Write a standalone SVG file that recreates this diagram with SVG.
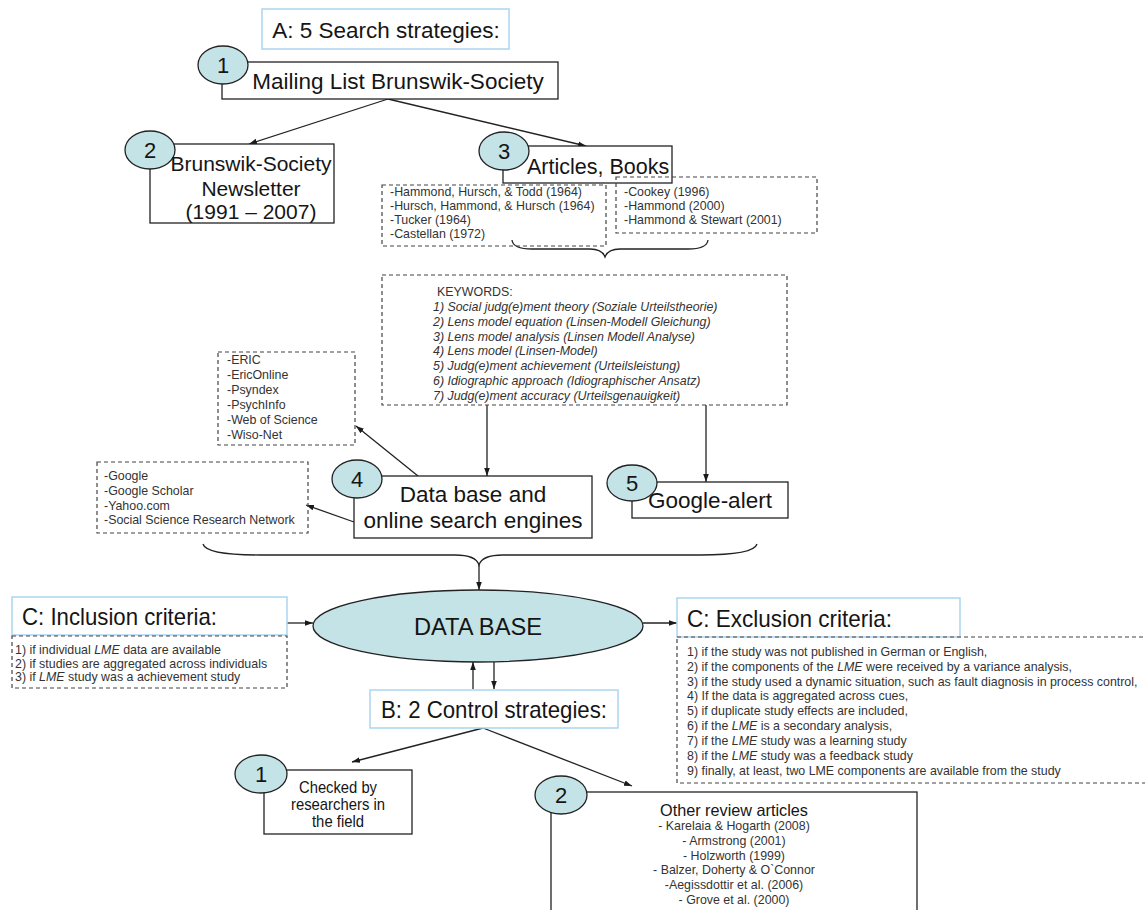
<svg xmlns="http://www.w3.org/2000/svg" width="1145" height="910" viewBox="0 0 1145 910">
<defs>
<marker id="ah" viewBox="0 0 10 10" refX="10" refY="5" markerWidth="8" markerHeight="8" markerUnits="userSpaceOnUse" orient="auto"><path d="M0,1.5 L10,5 L0,8.5 z" fill="#1a1a1a"/></marker>
</defs>
<style>
text{font-family:"Liberation Sans",Arial,sans-serif;fill:#151515}
.big{font-size:22.5px}
.mid{text-anchor:middle}
.sm{font-size:12.4px;fill:#333}
.it{font-style:italic}
.box{fill:#fff;stroke:#222;stroke-width:1.3}
.title{fill:#fff;stroke:#abd5f0;stroke-width:1.5}
.dash{fill:none;stroke:#444;stroke-width:1.2;stroke-dasharray:4 3}
.num{fill:#c4e3e7;stroke:#222;stroke-width:1.3}
.numt{font-size:22px;text-anchor:middle}
.con{fill:none;stroke:#222;stroke-width:1.3}
</style>
<rect width="1145" height="910" fill="#fff"/>

<g id="connectors" class="con">
<path d="M388,99 L249,144" marker-end="url(#ah)"/>
<path d="M388,99 L586,146" marker-end="url(#ah)"/>
<path d="M512,240 Q513,249 532,249 L590,249 Q602,249 605,257 Q608,249 620,249 L688,249 Q707,249 708,240"/>
<path d="M487,405 L487,476" marker-end="url(#ah)"/>
<path d="M706,405 L706,482" marker-end="url(#ah)"/>
<path d="M418,476 L356,426" marker-end="url(#ah)"/>
<path d="M354,522 L306,505" marker-end="url(#ah)"/>
<path d="M203,544 Q206,555 260,555 L455,555 Q476,555 479,565 Q482,555 503,555 L700,555 Q754,555 757,544"/>
<path d="M479,565 L479,590" marker-end="url(#ah)"/>
<path d="M287,623 L313,623" marker-end="url(#ah)"/>
<path d="M643,623 L677,623" marker-end="url(#ah)"/>
<path d="M473,689 L473,662" marker-end="url(#ah)"/>
<path d="M494,662 L494,689" marker-end="url(#ah)"/>
<path d="M483,728 L352,762" marker-end="url(#ah)"/>
<path d="M483,728 L632,786" marker-end="url(#ah)"/>
</g>

<g id="titleA">
<rect class="title" x="262" y="9" width="247" height="40"/>
<text class="big mid" x="386" y="38">A: 5 Search strategies:</text>
</g>

<g id="node1">
<rect class="box" x="222" y="62" width="336" height="37"/>
<ellipse class="num" cx="223" cy="65" rx="25" ry="19"/>
<text class="numt" x="223" y="73">1</text>
<text class="big mid" x="398" y="89">Mailing List Brunswik-Society</text>
</g>

<g id="node2">
<rect class="box" x="150" y="144" width="184" height="79"/>
<ellipse class="num" cx="150" cy="150" rx="25" ry="19"/>
<text class="numt" x="150" y="158">2</text>
<text class="mid" x="251" y="171" font-size="21">Brunswik-Society</text>
<text class="mid" x="251" y="196" font-size="21">Newsletter</text>
<text class="mid" x="251" y="219" font-size="21">(1991 – 2007)</text>
</g>

<g id="node3">
<rect class="box" x="503" y="146" width="169" height="37"/>
<ellipse class="num" cx="504" cy="151" rx="25" ry="19"/>
<text class="numt" x="504" y="159">3</text>
<text x="527" y="174" font-size="21.5">Articles, Books</text>
</g>

<g id="refsA">
<rect class="dash" x="382" y="185" width="224" height="61"/>
<text class="sm" x="390" y="196">-Hammond, Hursch, &amp; Todd (1964)</text>
<text class="sm" x="390" y="210">-Hursch, Hammond, &amp; Hursch (1964)</text>
<text class="sm" x="390" y="224">-Tucker (1964)</text>
<text class="sm" x="390" y="238">-Castellan (1972)</text>
</g>

<g id="refsB">
<rect class="dash" x="616" y="177" width="201" height="56"/>
<text class="sm" x="624" y="196">-Cookey (1996)</text>
<text class="sm" x="624" y="210">-Hammond (2000)</text>
<text class="sm" x="624" y="224">-Hammond &amp; Stewart (2001)</text>
</g>

<g id="keywords">
<rect class="dash" x="382" y="275" width="405" height="130"/>
<text class="sm" x="437" y="296">KEYWORDS:</text>
<text class="sm it" x="433" y="311">1) Social judg(e)ment theory (Soziale Urteilstheorie)</text>
<text class="sm it" x="433" y="325.7">2) Lens model equation (Linsen-Modell Gleichung)</text>
<text class="sm it" x="433" y="340.6">3) Lens model analysis (Linsen Modell Analyse)</text>
<text class="sm it" x="433" y="355.4">4) Lens model (Linsen-Model)</text>
<text class="sm it" x="433" y="370.3">5) Judg(e)ment achievement (Urteilsleistung)</text>
<text class="sm it" x="433" y="385.1">6) Idiographic approach (Idiographischer Ansatz)</text>
<text class="sm it" x="433" y="400">7) Judg(e)ment accuracy (Urteilsgenauigkeit)</text>
</g>

<g id="databases">
<rect class="dash" x="218" y="352" width="137" height="93"/>
<text class="sm" x="227" y="364">-ERIC</text>
<text class="sm" x="227" y="379">-EricOnline</text>
<text class="sm" x="227" y="394">-Psyndex</text>
<text class="sm" x="227" y="409">-PsychInfo</text>
<text class="sm" x="227" y="424">-Web of Science</text>
<text class="sm" x="227" y="439">-Wiso-Net</text>
</g>

<g id="engines">
<rect class="dash" x="97" y="462" width="211" height="71"/>
<text class="sm" x="104" y="480">-Google</text>
<text class="sm" x="104" y="495">-Google Scholar</text>
<text class="sm" x="104" y="510">-Yahoo.com</text>
<text class="sm" x="104" y="524">-Social Science Research Network</text>
</g>

<g id="node4">
<rect class="box" x="354" y="476" width="238" height="62"/>
<ellipse class="num" cx="357" cy="479" rx="25" ry="19"/>
<text class="numt" x="357" y="487">4</text>
<text class="big mid" x="473" y="502">Data base and</text>
<text class="big mid" x="473" y="528">online search engines</text>
</g>

<g id="node5">
<rect class="box" x="632" y="482" width="156" height="36"/>
<ellipse class="num" cx="632" cy="483" rx="25" ry="18"/>
<text class="numt" x="632" y="491">5</text>
<text class="big mid" x="710" y="508">Google-alert</text>
</g>

<g id="database">
<ellipse class="num" cx="478" cy="626" rx="165" ry="36"/>
<text class="mid" x="478" y="635" font-size="24" textLength="128" lengthAdjust="spacingAndGlyphs">DATA BASE</text>
</g>

<g id="inclusion">
<rect class="title" x="12" y="597" width="275" height="38"/>
<text x="22" y="625" font-size="24" textLength="195" lengthAdjust="spacingAndGlyphs">C: Inclusion criteria:</text>
<rect class="dash" x="12" y="636" width="275" height="52"/>
<text class="sm" x="15" y="654">1)  if individual <tspan class="it">LME</tspan> data are available</text>
<text class="sm" x="15" y="667.5">2)  if studies are aggregated across individuals</text>
<text class="sm" x="15" y="681">3)  if <tspan class="it">LME</tspan> study was a achievement study</text>
</g>

<g id="exclusion">
<rect class="title" x="677" y="598" width="283" height="39"/>
<text x="687" y="627" font-size="24" textLength="205" lengthAdjust="spacingAndGlyphs">C: Exclusion criteria:</text>
<rect class="dash" x="677" y="637" width="480" height="146"/>
<text class="sm" x="687" y="656">1)  if the study was not published in German or English,</text>
<text class="sm" x="687" y="671">2)  if the components of the <tspan class="it">LME</tspan> were received by a variance analysis,</text>
<text class="sm" x="687" y="686">3)  if the study used a dynamic situation, such as fault diagnosis in process control,</text>
<text class="sm" x="687" y="700">4)  If the data is aggregated across cues,</text>
<text class="sm" x="687" y="715">5)  if duplicate study effects are included,</text>
<text class="sm" x="687" y="730">6)  if the <tspan class="it">LME</tspan> is a secondary analysis,</text>
<text class="sm" x="687" y="745">7)  if the <tspan class="it">LME</tspan> study was a learning study</text>
<text class="sm" x="687" y="760">8)  if the <tspan class="it">LME</tspan> study was a feedback study</text>
<text class="sm" x="687" y="775">9)  finally, at least, two LME components are available from the study</text>
</g>

<g id="titleB">
<rect class="title" x="370" y="690" width="248" height="38"/>
<text class="mid" x="494" y="718" font-size="24" textLength="226" lengthAdjust="spacingAndGlyphs">B: 2 Control strategies:</text>
</g>

<g id="control1">
<rect class="box" x="264" y="770" width="148" height="64"/>
<ellipse class="num" cx="261" cy="774" rx="26" ry="19"/>
<text class="numt" x="261" y="782">1</text>
<text class="mid" x="338" y="793" font-size="17" textLength="78" lengthAdjust="spacingAndGlyphs">Checked by</text>
<text class="mid" x="338" y="810" font-size="17" textLength="94" lengthAdjust="spacingAndGlyphs">researchers in</text>
<text class="mid" x="338" y="827" font-size="17" textLength="52" lengthAdjust="spacingAndGlyphs">the field</text>
</g>

<g id="control2">
<rect class="box" x="551" y="792" width="366" height="140"/>
<ellipse class="num" cx="561" cy="795" rx="26" ry="19"/>
<text class="numt" x="561" y="803">2</text>
<text class="mid" x="734" y="816" font-size="16.5" textLength="148" lengthAdjust="spacingAndGlyphs">Other review articles</text>
<text class="mid sm" x="734" y="830" font-size="11.5">- Karelaia &amp; Hogarth (2008)</text>
<text class="mid sm" x="734" y="845">- Armstrong (2001)</text>
<text class="mid sm" x="734" y="860">- Holzworth (1999)</text>
<text class="mid sm" x="734" y="874">- Balzer, Doherty &amp; O`Connor</text>
<text class="mid sm" x="734" y="889">-Aegissdottir et al. (2006)</text>
<text class="mid sm" x="734" y="904">- Grove et al. (2000)</text>
</g>
</svg>
